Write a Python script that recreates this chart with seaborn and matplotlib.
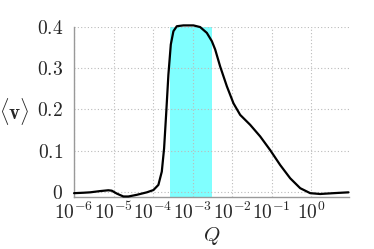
import numpy as np
import pandas as pd
import matplotlib
matplotlib.use("Agg")
import matplotlib.pyplot as plt
import seaborn as sns

# data (log10 Q, <v>)
log_q = [-6.0, -5.765, -5.595, -5.342, -5.132, -5.046, -4.919, -4.752, -4.625,
         -4.413, -4.159, -3.992, -3.866, -3.780, -3.722, -3.671, -3.613, -3.552,
         -3.486, -3.400, -3.233, -2.980, -2.810, -2.641, -2.514, -2.430, -2.304,
         -2.134, -1.967, -1.797, -1.544, -1.291, -1.038, -0.785, -0.532, -0.278,
         -0.025, 0.228, 0.565, 0.944]
v = [-0.002, -0.001, 0.0, 0.003, 0.005, 0.004, -0.003, -0.010, -0.010,
     -0.006, 0.0, 0.0055, 0.018, 0.050, 0.106, 0.187, 0.284, 0.357,
     0.389, 0.401, 0.403, 0.403, 0.399, 0.385, 0.365, 0.345, 0.304,
     0.256, 0.215, 0.187, 0.163, 0.135, 0.102, 0.066, 0.034, 0.010,
     -0.002, -0.004, -0.002, 0.0]
band = [2.7e-4, 3.06e-3]
yticks = [0, 0.1, 0.2, 0.3, 0.4]
ytick_labels = ["$0$", "$0.1$", "$0.2$", "$0.3$", "$0.4$"]
xticks = [1e-6, 1e-5, 1e-4, 1e-3, 1e-2, 1e-1, 1e0]
xtick_labels = [r"$10^{-6}$", r"$10^{-5}$", r"$10^{-4}$", r"$10^{-3}$",
                r"$10^{-2}$", r"$10^{-1}$", r"$10^{0}$"]

df = pd.DataFrame({"Q": 10 ** np.array(log_q), "v": v})

sns.set_style("white")
plt.rcParams["mathtext.fontset"] = "cm"
plt.rcParams["font.family"] = ["DejaVu Serif"]

fig = plt.figure(figsize=(3.74, 2.49), dpi=100)
ax = fig.add_axes([0.198, 0.2076, 0.735, 0.6854])

ax.axvspan(band[0], band[1], color="#80ffff", lw=0, zorder=0)
sns.lineplot(data=df, x="Q", y="v", ax=ax, color="black", lw=1.6, zorder=3)
for ln in ax.lines:
    ln.set_clip_on(False)
    ln.set_solid_joinstyle("round")

ax.set_xscale("log")
ax.set_xlim(1e-6, 10 ** 0.955)
ax.set_ylim(-0.012, 0.4)

ax.set_xticks(xticks)
ax.set_xticklabels(xtick_labels, fontsize=14)
ax.set_yticks(yticks)
ax.set_yticklabels(ytick_labels, fontsize=14)
ax.xaxis.set_minor_locator(matplotlib.ticker.LogLocator(base=10, subs=np.arange(2, 10)))
ax.xaxis.set_minor_formatter(matplotlib.ticker.NullFormatter())

ax.grid(True, which="major", color="#bbbbbb", ls=(0, (1, 2)), lw=0.8, zorder=1)
ax.tick_params(axis="x", which="both", direction="in", color="#999999", length=3, pad=3)
ax.tick_params(axis="x", which="major", length=4)
ax.tick_params(axis="y", which="both", length=0, pad=8)

for s in ["top", "right"]:
    ax.spines[s].set_visible(False)
for s in ["left", "bottom"]:
    ax.spines[s].set_color("#999999")
    ax.spines[s].set_linewidth(1.0)

ax.set_xlabel("$Q$", fontsize=15, labelpad=2)
ax.set_ylabel(r"$\langle \mathbf{v} \rangle$", fontsize=15, rotation=0, labelpad=16, va="center")

fig.savefig("out.png", dpi=100)
